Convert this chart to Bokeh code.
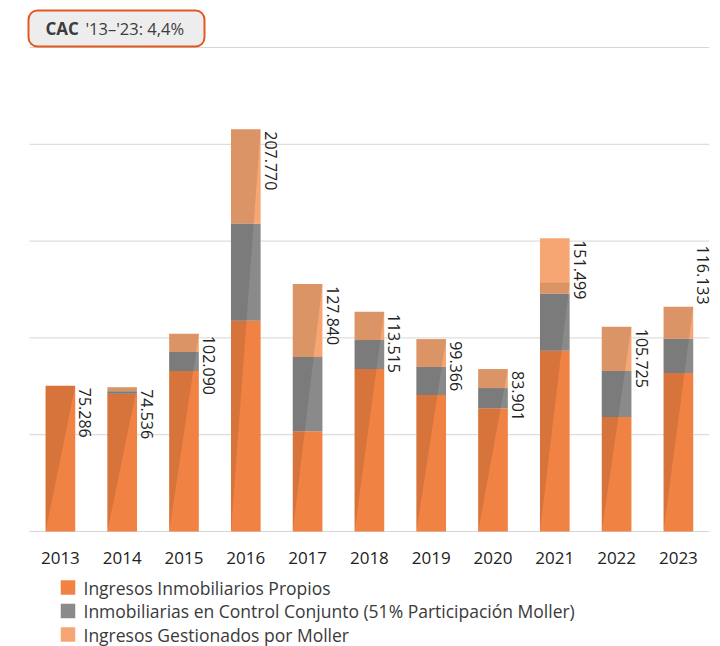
import numpy as np
from bokeh.plotting import figure
from bokeh.models import ColumnDataSource, Range1d, BoxAnnotation
from bokeh.core.properties import value
from bokeh.embed import file_html
from bokeh.resources import INLINE

# ---------------- data ----------------
years = ["2013", "2014", "2015", "2016", "2017", "2018", "2019", "2020", "2021", "2022", "2023"]
propios = [75.286, 71.1, 82.9, 108.8, 51.8, 83.9, 70.5, 63.7, 93.3, 59.1, 81.9]
conjunto = [0.0, 1.4, 9.8, 50.3, 38.3, 15.0, 14.5, 10.4, 29.5, 23.8, 17.6]
gestionados = [0.0, 2.0, 9.4, 48.7, 37.7, 14.6, 14.4, 9.8, 28.7, 22.8, 16.6]
totals = [75.286, 74.536, 102.090, 207.770, 127.840, 113.515, 99.366, 83.901, 151.499, 105.725, 116.133]
total_labels = ["75.286", "74.536", "102.090", "207.770", "127.840", "113.515",
                "99.366", "83.901", "151.499", "105.725", "116.133"]
shade_tops = [75.286, 74.536, 102.090, 207.770, 127.840, 113.515, 99.366, 83.901, 128.5, 105.725, 116.133]
grid_levels = [0, 50, 100, 150, 200, 250]
series_names = ["Ingresos Inmobiliarios Propios",
                "Inmobiliarias en Control Conjunto (51% Participación Moller)",
                "Ingresos Gestionados por Moller"]
series_colors = ["#F08244", "#8A8A8A", "#F5A673"]
cac_bold = "CAC"
cac_rest = "'13–'23: 4,4%"

# ---------------- layout constants (page pixels) ----------------
W, H = 720, 646
PX_X = 61.8              # px per category
PX_Y = 1.936             # px per unit
X0_PAGE = 29             # page x of category edge -0.5
BASE_PAGE = 531          # page y of value 0
FRAME_LEFT = 26


def dx(page_x):
    return -0.5 + (page_x - X0_PAGE) / PX_X


def dy(page_y):
    return (BASE_PAGE - page_y) / PX_Y


p = figure(width=W, height=H, output_backend="svg", toolbar_location=None,
           x_range=Range1d(dx(FRAME_LEFT), dx(W)), y_range=Range1d(dy(H), dy(0)),
           x_axis_location=None, y_axis_location=None)
p.min_border = 0
p.min_border_left = FRAME_LEFT
p.outline_line_color = None
p.grid.visible = False
p.xgrid.visible = False
p.ygrid.visible = False
p.background_fill_color = "white"
p.border_fill_color = "white"

idx = list(range(len(years)))
n = len(years)

# gridlines
p.segment(x0=[-0.5] * len(grid_levels), x1=[n - 0.5] * len(grid_levels),
          y0=grid_levels, y1=grid_levels, line_color="#D6D6D6", line_width=1)

# stacked bars
src = ColumnDataSource(dict(x=idx, propios=propios, conjunto=conjunto, gestionados=gestionados))
BW = 0.48
p.vbar_stack(["propios", "conjunto", "gestionados"], x="x", width=BW,
             color=series_colors, line_color=None, source=src)

# diagonal shading overlay per bar
xs, ys = [], []
for i, t in zip(idx, shade_tops):
    xs.append([i - BW / 2, i - BW / 2, i + BW / 2])
    ys.append([0, t, t])
p.patches(xs, ys, fill_color="black", fill_alpha=0.105, line_color=None)

# value labels (rotated)
lab_font = value("Open Sans")
p.text(x=idx[:-1], y=totals[:-1], text=total_labels[:-1], angle=-np.pi / 2,
       text_align="left", text_baseline="middle", x_offset=25, y_offset=2,
       text_font=lab_font, text_font_size="16px", text_color="#222222")
p.text(x=idx[-1:], y=totals[-1:], text=total_labels[-1:], angle=-np.pi / 2,
       text_align="right", text_baseline="middle", x_offset=25, y_offset=-2,
       text_font=lab_font, text_font_size="16px", text_color="#222222")

# year labels
p.text(x=idx, y=[0] * n, text=years, y_offset=26, text_align="center",
       text_baseline="middle", text_font=lab_font, text_font_size="17px",
       text_color="#222222")

# legend (manual)
for k, (name, col) in enumerate(zip(series_names, series_colors)):
    cy = 587 + 23.5 * k
    p.rect(x=[dx(67.5)], y=[dy(cy)], width=14.5, height=14.5, width_units="screen",
           height_units="screen", fill_color=col, line_color=None)
    p.text(x=[dx(83)], y=[dy(cy)], text=[name], text_align="left", text_baseline="middle",
           text_font=lab_font, text_font_size="17.5px", text_color="#3A3A3A")

# CAC box
box = BoxAnnotation(left=dx(28), right=dx(204), top=dy(10), bottom=dy(46),
                    fill_color="#EDEDED", fill_alpha=1.0, line_color="#E4581E",
                    line_width=2, line_alpha=1.0, border_radius=9, level="annotation")
p.add_layout(box)
p.text(x=[dx(45)], y=[dy(28)], text=[cac_bold], text_align="left", text_baseline="middle",
       text_font=lab_font, text_font_style="bold", text_font_size="17px", text_color="#3C3C3C",
       level="overlay")
p.text(x=[dx(85)], y=[dy(28)], text=[cac_rest], text_align="left", text_baseline="middle",
       text_font=lab_font, text_font_size="16.5px", text_color="#3C3C3C", level="overlay")

open("out.html", "w").write(file_html(p, INLINE))
